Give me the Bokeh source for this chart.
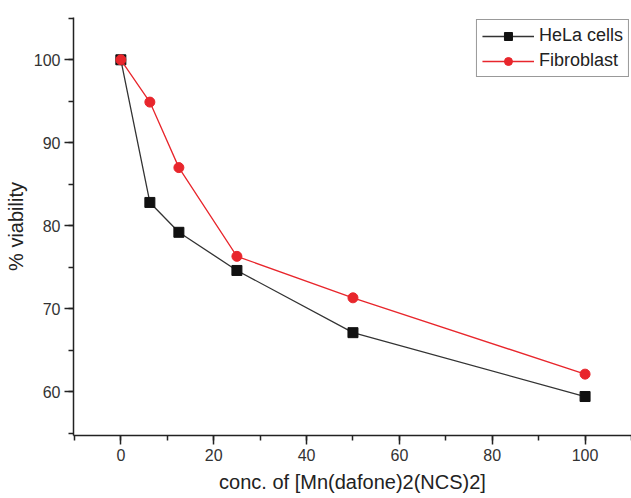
from bokeh.plotting import figure
from bokeh.models import SingleIntervalTicker, Range1d
from bokeh.embed import file_html
from bokeh.resources import INLINE

conc = [0, 6.25, 12.5, 25, 50, 100]
hela = [100, 82.8, 79.2, 74.6, 67.1, 59.4]
fibro = [100, 94.9, 87.0, 76.3, 71.3, 62.1]
series_names = ["HeLa cells", "Fibroblast"]
x_title = "conc. of [Mn(dafone)2(NCS)2]"
y_title = "% viability"

FONT = "Liberation Sans"

p = figure(width=631, height=498, output_backend="svg", toolbar_location=None,
           x_range=Range1d(-10.2, 110), y_range=Range1d(54.7, 105.1),
           min_border_left=73, min_border_right=0, min_border_top=17, min_border_bottom=63)
p.outline_line_color = None
p.grid.visible = False
p.background_fill_color = "white"

p.line(conc, hela, line_color="#333333", line_width=1.3, legend_label=series_names[0])
p.scatter(conc, hela, marker="square", size=10, fill_color="#111111", line_color="#111111",
          legend_label=series_names[0])
p.line(conc, fibro, line_color="#e8262c", line_width=1.3, legend_label=series_names[1])
p.scatter(conc, fibro, marker="circle", size=10, fill_color="#e8262c", line_color="#e8262c",
          legend_label=series_names[1])

p.xaxis.ticker = SingleIntervalTicker(interval=20, num_minor_ticks=2)
p.yaxis.ticker = SingleIntervalTicker(interval=10, num_minor_ticks=2)

for ax in (p.xaxis[0], p.yaxis[0]):
    ax.axis_line_color = "#222222"
    ax.axis_line_width = 1.5
    ax.major_tick_line_color = "#222222"
    ax.major_tick_line_width = 1.5
    ax.minor_tick_line_color = "#222222"
    ax.minor_tick_line_width = 1.5
    ax.major_tick_out = 9
    ax.major_tick_in = 0
    ax.minor_tick_out = 5
    ax.minor_tick_in = 0
    ax.major_label_text_font = FONT
    ax.major_label_text_font_size = "16px"
    ax.major_label_text_color = "#333333"
    ax.major_label_standoff = 4
    ax.axis_label_text_font = FONT
    ax.axis_label_text_font_size = "20px"
    ax.axis_label_text_font_style = "normal"
    ax.axis_label_text_color = "#222222"

p.xaxis.axis_label = x_title
p.yaxis.axis_label = y_title
p.xaxis.axis_label_standoff = 7
p.yaxis.axis_label_standoff = 4

leg = p.legend[0]
leg.location = "top_right"
leg.margin = 2
leg.padding = 5
leg.spacing = 4
leg.label_height = 20
leg.glyph_height = 20
leg.glyph_width = 52
leg.label_standoff = 5
leg.label_text_font = FONT
leg.label_text_font_size = "18px"
leg.label_text_color = "#222222"
leg.border_line_color = "#333333"
leg.border_line_width = 1
leg.background_fill_alpha = 1

open("out.html", "w").write(file_html(p, INLINE))
